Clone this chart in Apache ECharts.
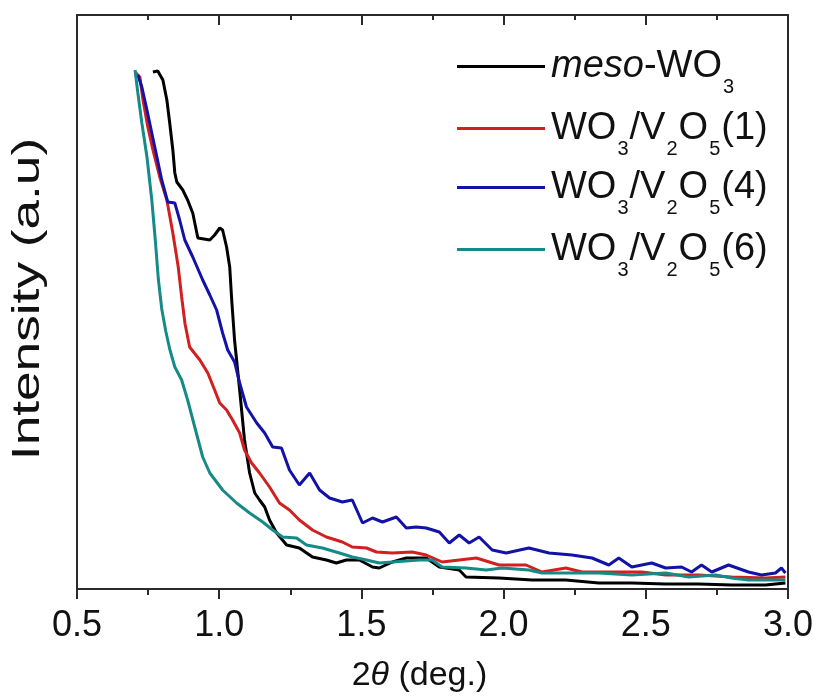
<!DOCTYPE html>
<html>
<head>
<meta charset="utf-8">
<script src="https://cdn.jsdelivr.net/npm/echarts@6/dist/echarts.min.js"></script>
<style>html,body{margin:0;padding:0;background:#fff}#c{width:816px;height:700px}</style>
</head>
<body>
<div id="c"></div>
<script>
// Series names (legend rich text) and data: [2θ (deg.), intensity (a.u.)]
var seriesNames = ['meso-WO3', 'WO3/V2O5(1)', 'WO3/V2O5(4)', 'WO3/V2O5(6)'];
var legendLabels = ['{it|meso}-WO{sub|3}', 'WO{sub|3}/V{sub|2}O{sub|5}(1)', 'WO{sub|3}/V{sub|2}O{sub|5}(4)', 'WO{sub|3}/V{sub|2}O{sub|5}(6)'];
var xTicks = [0.5, 1.0, 1.5, 2.0, 2.5, 3.0];
var xTitle = '2{i|θ} (deg.)';
var yTitle = 'Intensity (a.u)';

var mesoWO3 = [
  [0.767,517],[0.784,518],[0.802,509],[0.816,489],[0.826,466],[0.837,439],[0.844,416],[0.851,407],
  [0.872,399],[0.889,389],[0.907,376],[0.925,351],[0.967,349],[0.984,354],[1.002,361],[1.012,359],
  [1.026,342],[1.037,322],[1.044,289],[1.054,249],[1.072,199],[1.089,149],[1.107,116],[1.125,96],
  [1.142,89],[1.160,82],[1.177,69],[1.202,56],[1.237,44],[1.282,41],[1.328,32],[1.377,29],[1.412,26],
  [1.447,29],[1.493,29],[1.539,22],[1.563,21],[1.609,27],[1.658,31],[1.728,31],[1.774,22],[1.844,19],
  [1.868,12],[1.984,11],[2.100,9],[2.219,9],[2.335,6],[2.451,6],[2.570,5],[2.686,5],[2.802,4],
  [2.921,4],[2.991,6]
];
var wv1 = [
  [0.704,517],[0.721,512],[0.732,489],[0.749,462],[0.767,439],[0.791,412],[0.816,389],[0.837,356],
  [0.856,322],[0.868,292],[0.880,265],[0.896,242],[0.932,229],[0.960,216],[0.984,199],[1.002,186],
  [1.026,179],[1.047,169],[1.072,156],[1.089,139],[1.114,126],[1.142,116],[1.177,102],[1.212,86],
  [1.247,79],[1.282,69],[1.328,59],[1.377,52],[1.433,47],[1.468,42],[1.518,41],[1.553,37],[1.609,36],
  [1.679,37],[1.728,34],[1.784,27],[1.844,29],[1.904,31],[1.984,24],[2.079,24],[2.135,17],[2.219,21],
  [2.275,17],[2.395,17],[2.486,17],[2.570,14],[2.686,14],[2.802,12],[2.921,11],[2.991,12]
];
var wv4 = [
  [0.714,514],[0.728,502],[0.746,479],[0.763,456],[0.781,432],[0.798,409],[0.819,387],[0.844,386],
  [0.861,369],[0.879,349],[0.907,332],[0.942,309],[0.967,294],[0.991,279],[1.012,256],[1.030,239],
  [1.054,227],[1.072,206],[1.096,182],[1.132,166],[1.160,156],[1.188,142],[1.219,141],[1.247,119],
  [1.282,104],[1.318,116],[1.353,99],[1.388,91],[1.433,87],[1.468,89],[1.504,66],[1.539,71],[1.574,67],
  [1.623,72],[1.658,61],[1.693,62],[1.728,61],[1.774,57],[1.809,46],[1.844,54],[1.879,46],[1.914,52],
  [1.960,39],[2.009,36],[2.089,41],[2.160,36],[2.240,34],[2.311,31],[2.370,24],[2.405,31],[2.451,22],
  [2.521,26],[2.570,21],[2.626,22],[2.661,17],[2.696,24],[2.732,17],[2.791,24],[2.861,17],[2.907,14],
  [2.956,16],[2.977,21],[2.991,16]
];
var wv6 = [
  [0.704,519],[0.714,496],[0.728,466],[0.746,432],[0.763,389],[0.775,350],[0.786,310],[0.798,280],
  [0.812,258],[0.826,240],[0.844,222],[0.868,209],[0.889,189],[0.914,162],[0.942,132],[0.967,116],[1.012,99],
  [1.061,86],[1.107,76],[1.153,67],[1.188,59],[1.223,52],[1.272,51],[1.307,44],[1.363,41],[1.423,36],
  [1.468,32],[1.518,29],[1.563,26],[1.609,27],[1.704,29],[1.749,29],[1.784,22],[1.868,21],[1.939,19],
  [1.995,21],[2.089,19],[2.135,16],[2.219,16],[2.335,16],[2.451,14],[2.570,16],[2.651,12],[2.746,14],
  [2.802,11],[2.861,9],[2.921,9],[2.991,9]
];
var seriesData = [mesoWO3, wv1, wv4, wv6];
var colors = ['#000000', '#d21f1f', '#1212a8', '#168a86'];

var FONT = 'Liberation Sans, Arial, sans-serif';
var chart = echarts.init(document.getElementById('c'), null, {renderer: 'canvas'});

var legendTops = [31, 93, 152, 214];
var legends = seriesNames.map(function (n, i) {
  return {
    data: [{name: n, icon: 'rect'}],
    orient: 'vertical',
    left: 452,
    top: legendTops[i],
    itemWidth: 88,
    itemHeight: 3,
    selectedMode: false,
    formatter: function () { return legendLabels[i]; },
    textStyle: {
      fontFamily: FONT, fontSize: 38, color: '#111', lineHeight: 61, padding: [0, 0, 0, 1],
      rich: {
        it: {fontFamily: FONT, fontSize: 38, fontStyle: 'italic', color: '#111', lineHeight: 61},
        sub: {fontFamily: FONT, fontSize: 20, color: '#111', lineHeight: 20, verticalAlign: 'bottom', padding: [0, 1, 0, 1]}
      }
    }
  };
});

var option = {
  animation: false,
  backgroundColor: '#fff',
  grid: {left: 77, right: 27, top: 15, bottom: 111, containLabel: false},
  legend: legends,
  graphic: [{
    type: 'text', x: 29, y: 299, rotation: Math.PI / 2, scaleX: 1.33, scaleY: 0.95,
    style: {text: yTitle, font: '40px "Liberation Sans", Arial, sans-serif', fill: '#111',
      align: 'center', verticalAlign: 'middle'}
  }],
  xAxis: [{
    type: 'value', position: 'bottom', min: 0.5, max: 3.0, interval: 0.5,
    name: xTitle, nameLocation: 'middle', nameGap: 70,
    nameTextStyle: {fontFamily: FONT, fontSize: 34, color: '#111', padding: [0, 26, 0, 0],
      rich: {i: {fontFamily: FONT, fontSize: 34, fontStyle: 'italic', color: '#111'}}},
    axisLine: {show: true, onZero: false, lineStyle: {color: '#2a2a2a', width: 2}},
    axisTick: {show: true, inside: false, length: 10, lineStyle: {color: '#2a2a2a', width: 2}},
    minorTick: {show: true, splitNumber: 2, length: 6, lineStyle: {color: '#2a2a2a', width: 2}},
    axisLabel: {show: true, margin: 19, fontFamily: FONT, fontSize: 36, color: '#111',
      formatter: function (v) { return xTicks.indexOf(+v.toFixed(1)) >= 0 ? v.toFixed(1) : ''; }},
    splitLine: {show: false}
  }, {
    type: 'value', position: 'top', min: 0.5, max: 3.0, interval: 0.5,
    axisLine: {show: true, onZero: false, lineStyle: {color: '#2a2a2a', width: 2}},
    axisTick: {show: true, inside: true, length: 10, lineStyle: {color: '#2a2a2a', width: 2}},
    minorTick: {show: true, splitNumber: 2, length: 5, lineStyle: {color: '#2a2a2a', width: 2}},
    axisLabel: {show: false},
    splitLine: {show: false}
  }],
  yAxis: [{
    type: 'value', position: 'left', min: 0, max: 574,
    axisLine: {show: true, onZero: false, lineStyle: {color: '#2a2a2a', width: 2}},
    axisTick: {show: false}, axisLabel: {show: false}, splitLine: {show: false}
  }, {
    type: 'value', position: 'right', min: 0, max: 574,
    axisLine: {show: true, onZero: false, lineStyle: {color: '#2a2a2a', width: 2}},
    axisTick: {show: false}, axisLabel: {show: false}, splitLine: {show: false}
  }],
  series: seriesNames.map(function (n, i) {
    return {
      name: n, type: 'line', xAxisIndex: 0, yAxisIndex: 0,
      data: seriesData[i], symbol: 'none', smooth: false,
      lineStyle: {color: colors[i], width: 3}, itemStyle: {color: colors[i]},
      z: 2 + i
    };
  })
};
chart.setOption(option);
</script>
</body>
</html>
